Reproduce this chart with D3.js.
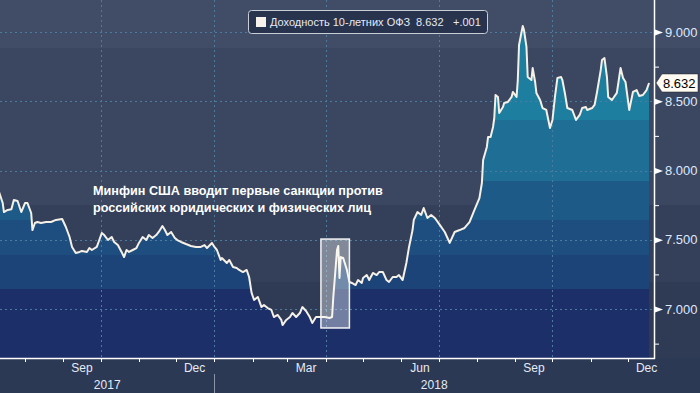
<!DOCTYPE html>
<html>
<head>
<meta charset="utf-8">
<script src="https://cdn.jsdelivr.net/npm/d3@7"></script>
<style>
	html, body { margin: 0; padding: 0; background: #2c3954; }
	svg { display: block; font-family: 'Liberation Sans', Arial, sans-serif; }
</style>
</head>
<body>
<svg></svg>
<script>

const dates = [
	'2017-07-11', '2017-07-14', '2017-07-15', '2017-07-18', '2017-07-21', '2017-07-23', '2017-07-26', '2017-07-29',
	'2017-08-01', '2017-08-03', '2017-08-06', '2017-08-07', '2017-08-09', '2017-08-11', '2017-08-14', '2017-08-18',
	'2017-08-22', '2017-08-26', '2017-08-31', '2017-09-03', '2017-09-06', '2017-09-08', '2017-09-11', '2017-09-14',
	'2017-09-16', '2017-09-20', '2017-09-22', '2017-09-24', '2017-09-28', '2017-09-30', '2017-10-02', '2017-10-04',
	'2017-10-07', '2017-10-10', '2017-10-12', '2017-10-15', '2017-10-18', '2017-10-20', '2017-10-22', '2017-10-24',
	'2017-10-27', '2017-10-30', '2017-11-01', '2017-11-04', '2017-11-07', '2017-11-09', '2017-11-12', '2017-11-15',
	'2017-11-17', '2017-11-20', '2017-11-22', '2017-11-24', '2017-11-27', '2017-11-30', '2017-12-02', '2017-12-05',
	'2017-12-09', '2017-12-13', '2017-12-17', '2017-12-21', '2017-12-24', '2017-12-26', '2017-12-30', '2018-01-01',
	'2018-01-03', '2018-01-06', '2018-01-07', '2018-01-11', '2018-01-13', '2018-01-16', '2018-01-19', '2018-01-21',
	'2018-01-24', '2018-01-27', '2018-01-29', '2018-01-31', '2018-02-02', '2018-02-05', '2018-02-08', '2018-02-10',
	'2018-02-13', '2018-02-16', '2018-02-18', '2018-02-21', '2018-02-24', '2018-02-25', '2018-02-28', '2018-03-03',
	'2018-03-05', '2018-03-08', '2018-03-11', '2018-03-13', '2018-03-16', '2018-03-19', '2018-03-21', '2018-03-24',
	'2018-03-27', '2018-03-31', '2018-04-04', '2018-04-06', '2018-04-07', '2018-04-10', '2018-04-11', '2018-04-12',
	'2018-04-13', '2018-04-15', '2018-04-18', '2018-04-20', '2018-04-22', '2018-04-25', '2018-04-27', '2018-04-30',
	'2018-05-01', '2018-05-04', '2018-05-06', '2018-05-09', '2018-05-12', '2018-05-14', '2018-05-17', '2018-05-20',
	'2018-05-22', '2018-05-25', '2018-05-28', '2018-05-30', '2018-06-02', '2018-06-05', '2018-06-07', '2018-06-10',
	'2018-06-11', '2018-06-14', '2018-06-17', '2018-06-19', '2018-06-22', '2018-06-25', '2018-06-28', '2018-07-02',
	'2018-07-06', '2018-07-10', '2018-07-14', '2018-07-18', '2018-07-22', '2018-07-26', '2018-07-30', '2018-08-03',
	'2018-08-05', '2018-08-06', '2018-08-09', '2018-08-10', '2018-08-12', '2018-08-14', '2018-08-15', '2018-08-16',
	'2018-08-18', '2018-08-19', '2018-08-22', '2018-08-23', '2018-08-26', '2018-08-29', '2018-08-30', '2018-09-02',
	'2018-09-03', '2018-09-04', '2018-09-07', '2018-09-08', '2018-09-10', '2018-09-11', '2018-09-14', '2018-09-15',
	'2018-09-17', '2018-09-18', '2018-09-21', '2018-09-23', '2018-09-26', '2018-09-29', '2018-10-01', '2018-10-03',
	'2018-10-05', '2018-10-08', '2018-10-09', '2018-10-11', '2018-10-13', '2018-10-17', '2018-10-20', '2018-10-23',
	'2018-10-25', '2018-10-28', '2018-10-29', '2018-11-02', '2018-11-04', '2018-11-06', '2018-11-09', '2018-11-10',
	'2018-11-12', '2018-11-14', '2018-11-15', '2018-11-18', '2018-11-22', '2018-11-25', '2018-11-27', '2018-11-29',
	'2018-12-02', '2018-12-05', '2018-12-08', '2018-12-10', '2018-12-13', '2018-12-16', '2018-12-18'
]

const yields = [
	7.845, 7.765, 7.700, 7.715, 7.720, 7.787, 7.780, 7.700,
	7.765, 7.765, 7.693, 7.570, 7.621, 7.628, 7.621, 7.628,
	7.628, 7.643, 7.650, 7.592, 7.520, 7.448, 7.404, 7.412,
	7.419, 7.412, 7.440, 7.426, 7.448, 7.498, 7.549, 7.534,
	7.498, 7.520, 7.484, 7.462, 7.412, 7.375, 7.426, 7.412,
	7.426, 7.440, 7.477, 7.520, 7.498, 7.534, 7.513, 7.534,
	7.556, 7.599, 7.570, 7.534, 7.556, 7.513, 7.498, 7.484,
	7.469, 7.455, 7.448, 7.448, 7.462, 7.440, 7.477, 7.448,
	7.426, 7.354, 7.368, 7.332, 7.354, 7.303, 7.296, 7.282,
	7.267, 7.282, 7.231, 7.116, 7.065, 7.087, 7.014, 7.029,
	7.007, 6.993, 6.942, 6.957, 6.921, 6.884, 6.921, 6.942,
	6.971, 6.942, 6.971, 7.014, 6.986, 6.942, 6.899, 6.942,
	6.942, 6.942, 6.935, 6.942, 7.087, 7.426, 7.455, 7.224,
	7.375, 7.368, 7.282, 7.195, 7.188, 7.173, 7.209, 7.188,
	7.224, 7.245, 7.209, 7.260, 7.245, 7.267, 7.267, 7.209,
	7.195, 7.231, 7.231, 7.245, 7.209, 7.332, 7.440, 7.570,
	7.643, 7.700, 7.679, 7.729, 7.657, 7.679, 7.657, 7.607,
	7.556, 7.477, 7.556, 7.570, 7.585, 7.628, 7.715, 7.801,
	7.910, 8.076, 8.170, 8.242, 8.242, 8.314, 8.379, 8.545,
	8.531, 8.415, 8.458, 8.487, 8.495, 8.531, 8.567, 8.531,
	8.653, 8.906, 9.043, 9.014, 8.892, 8.675, 8.653, 8.740,
	8.639, 8.560, 8.509, 8.451, 8.437, 8.307, 8.365, 8.531,
	8.668, 8.675, 8.653, 8.560, 8.451, 8.437, 8.365, 8.401,
	8.451, 8.458, 8.437, 8.451, 8.473, 8.567, 8.726, 8.798,
	8.812, 8.675, 8.531, 8.509, 8.560, 8.740, 8.668, 8.639,
	8.437, 8.567, 8.581, 8.538, 8.545, 8.581, 8.632
]

const yTicks = [7, 7.5, 8, 8.5, 9]
const yMinorTicks = [6.75, 7.25, 7.75, 8.25, 8.75]
const seriesName = 'Доходность 10-летних ОФЗ'
const lastValue = 8.632
const lastChange = '+.001'
const noteLines = ['Минфин США вводит первые санкции против', 'российских юридических и физических лиц']
const noteDates = ['2018-03-28', '2018-04-20']
const noteRange = [6.863, 7.505]

let w = 700, h = 393
let right = 654, bottom = 358

let parse = d3.timeParse('%Y-%m-%d')
let data = dates.map((d, i) => ({ date: parse(d), v: yields[i] }))

let svg = d3.select('svg').attr('width', w).attr('height', h)

let x = d3.scaleTime()
	.domain([new Date(2017, 7, 1), new Date(2018, 11, 1)])
	.range([25, 628])

let y = d3.scaleLinear()
	.domain([7, 9])
	.range([309, 32])

// background stripes (pixel rows)
let bg = [[0, 48, '#414d66'], [48, 205, '#3b4761'], [205, 282, '#343f5a'], [282, bottom, '#2f3a55'], [bottom, h, '#2c3954']]
svg.append('g')
	.selectAll('rect')
	.data(bg).enter()
	.append('rect')
	.attr('x', 0)
	.attr('y', d => d[0])
	.attr('width', w)
	.attr('height', d => d[1] - d[0])
	.attr('fill', d => d[2])

let defs = svg.append('defs')
defs.append('clipPath').attr('id', 'plot')
	.append('rect').attr('x', 0).attr('y', 0).attr('width', right).attr('height', bottom)

// fill colour by value band
let bands = [
	[9.5, 8.364, '#1e7ea0'],
	[8.364, 7.924, '#1e6e95'],
	[7.924, 7.643, '#1d5a88'],
	[7.643, 7.39, '#1e4d7f'],
	[7.39, 7.144, '#1d4478'],
	[7.144, 6.5, '#1c2f69']
]

bands.forEach((b, i) => {
	defs.append('clipPath').attr('id', 'band' + i)
		.append('rect')
		.attr('x', 0)
		.attr('y', y(b[0]))
		.attr('width', right)
		.attr('height', y(b[1]) - y(b[0]))
})

let area = d3.area()
	.x(d => x(d.date))
	.y0(bottom)
	.y1(d => y(d.v))

let plot = svg.append('g').attr('clip-path', 'url(#plot)')

plot.append('g')
	.selectAll('path')
	.data(bands).enter()
	.append('path')
	.attr('clip-path', (d, i) => `url(#band${i})`)
	.attr('d', area(data))
	.attr('fill', d => d[2])

// dashed grid
plot.append('g')
	.selectAll('line')
	.data(yTicks).enter()
	.append('line')
	.attr('x1', 0)
	.attr('x2', right)
	.attr('y1', d => Math.round(y(d)) + 0.5)
	.attr('y2', d => Math.round(y(d)) + 0.5)
	.attr('stroke', '#4b7c9e')
	.attr('stroke-dasharray', '2,3')

let quarters = d3.timeMonth.every(3).range(x.invert(0), x.invert(right))
plot.append('g')
	.selectAll('line')
	.data(quarters).enter()
	.append('line')
	.attr('x1', d => Math.round(x(d)) + 0.5)
	.attr('x2', d => Math.round(x(d)) + 0.5)
	.attr('y1', 0)
	.attr('y2', bottom)
	.attr('stroke', '#4b7c9e')
	.attr('stroke-dasharray', '2,3')

let line = d3.line()
	.x(d => x(d.date))
	.y(d => y(d.v))

plot.append('path')
	.attr('d', line(data))
	.attr('fill', 'none')
	.attr('stroke', '#f6f1e7')
	.attr('stroke-width', 2)
	.attr('stroke-linejoin', 'round')

// highlighted period
let nd = noteDates.map(parse)
plot.append('rect')
	.attr('x', x(nd[0]))
	.attr('y', y(noteRange[1]))
	.attr('width', x(nd[1]) - x(nd[0]))
	.attr('height', y(noteRange[0]) - y(noteRange[1]))
	.attr('fill', 'rgba(255, 255, 255, 0.38)')
	.attr('stroke', '#f4f4f4')
	.attr('stroke-width', 1.5)

svg.append('g')
	.selectAll('text')
	.data(noteLines).enter()
	.append('text')
	.text(d => d)
	.attr('x', 93)
	.attr('y', (d, i) => 195 + i * 17)
	.attr('fill', '#ffffff')
	.attr('font-size', 12.65)
	.attr('font-weight', 'bold')

// axes
svg.append('line')
	.attr('x1', 0).attr('x2', right + 1)
	.attr('y1', bottom + 0.5).attr('y2', bottom + 0.5)
	.attr('stroke', '#ffffff')
	.attr('stroke-width', 1.5)

svg.append('line')
	.attr('x1', right + 0.5).attr('x2', right + 0.5)
	.attr('y1', 0).attr('y2', bottom + 1)
	.attr('stroke', '#ffffff')
	.attr('stroke-width', 1.5)

let months = d3.timeMonth.range(x.invert(0), x.invert(right))
svg.append('g')
	.selectAll('line')
	.data(months).enter()
	.append('line')
	.attr('x1', d => Math.round(x(d)) + 0.5)
	.attr('x2', d => Math.round(x(d)) + 0.5)
	.attr('y1', bottom)
	.attr('y2', bottom + 4)
	.attr('stroke', '#ffffff')

svg.append('g')
	.selectAll('text')
	.data(months.filter(d => d.getMonth() % 3 == 2)).enter()
	.append('text')
	.text(d => d3.timeFormat('%b')(d))
	.attr('x', d => x(d3.timeDay.offset(d, 15)))
	.attr('y', 372)
	.attr('text-anchor', 'middle')
	.attr('fill', '#e4ebf7')
	.attr('font-size', 12)

let jan = new Date(2018, 0, 1)
let years = [[x.invert(0), jan], [jan, x.invert(right)]]
svg.append('g')
	.selectAll('text')
	.data(years).enter()
	.append('text')
	.text(d => d3.timeFormat('%Y')(d[0]))
	.attr('x', d => (x(d[0]) + x(d[1])) / 2)
	.attr('y', 389)
	.attr('text-anchor', 'middle')
	.attr('fill', '#e4ebf7')
	.attr('font-size', 12)

svg.append('line')
	.attr('x1', Math.round(x(jan)) + 0.5).attr('x2', Math.round(x(jan)) + 0.5)
	.attr('y1', 374).attr('y2', h)
	.attr('stroke', '#8a93a8')

let yAxis = svg.append('g')
	.attr('transform', `translate(${right}, 0)`)
	.call(d3.axisRight(y).tickValues(yTicks).tickFormat(d3.format('.3f')).tickSize(0).tickPadding(11))
yAxis.select('.domain').remove()
yAxis.selectAll('text')
	.attr('fill', '#dde8ff')
	.attr('font-size', 13)
	.attr('font-family', 'Liberation Sans, Arial, sans-serif')
yAxis.selectAll('.tick').append('path')
	.attr('d', 'M1,-3L9,0L1,3Z')
	.attr('fill', '#ffffff')

let minor = svg.append('g')
	.attr('transform', `translate(${right}, 0)`)
	.call(d3.axisRight(y).tickValues(yMinorTicks).tickFormat('').tickSize(5))
minor.select('.domain').remove()
minor.selectAll('line').attr('stroke', '#ffffff')

// last value tag
let tag = svg.append('g')
	.attr('transform', `translate(${right}, ${y(lastValue)})`)
tag.append('path')
	.attr('d', 'M2,0L8,-9H44V9H8Z')
	.attr('fill', '#fffaf2')
	.attr('stroke', '#222')
	.attr('stroke-width', 0.5)
tag.append('text')
	.text(d3.format('.3f')(lastValue))
	.attr('x', 9)
	.attr('dy', '0.36em')
	.attr('fill', '#000')
	.attr('font-size', 13)

// legend
let legend = svg.append('g')
legend.append('rect')
	.attr('x', 248.5).attr('y', 10.5)
	.attr('width', 239).attr('height', 23)
	.attr('rx', 3)
	.attr('fill', '#28334d')
	.attr('stroke', '#c9cdd6')
legend.append('rect')
	.attr('x', 256).attr('y', 17)
	.attr('width', 10).attr('height', 10)
	.attr('fill', '#f6f1ea')
legend.append('text')
	.text(seriesName)
	.attr('x', 270).attr('y', 26)
	.attr('fill', '#e6eaf2')
	.attr('font-size', 11)
legend.append('text')
	.text(d3.format('.3f')(lastValue))
	.attr('x', 416).attr('y', 26)
	.attr('fill', '#e6eaf2')
	.attr('font-size', 11)
legend.append('text')
	.text(lastChange)
	.attr('x', 453).attr('y', 26)
	.attr('fill', '#e6eaf2')
	.attr('font-size', 11)

</script>
</body>
</html>
